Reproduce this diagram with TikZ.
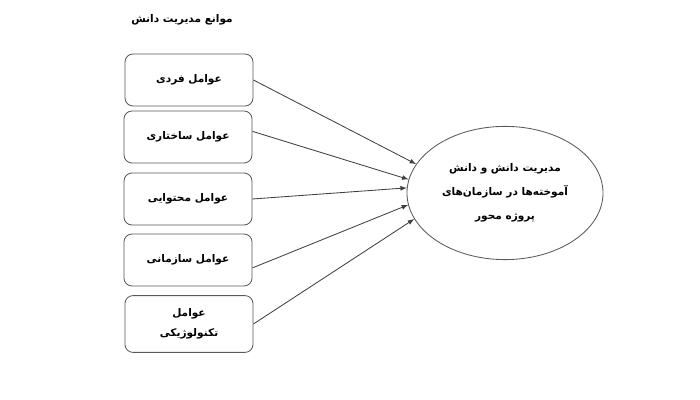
\documentclass[tikz,border=0pt]{standalone}
\usepackage{fontspec}
\newfontfamily\fa[Script=Arabic]{DejaVu Sans}
\TeXXeTstate=1
\usetikzlibrary{shapes.geometric}
\newcommand{\rtl}[1]{\beginR #1\endR}
\tikzstyle{factor}=[rounded corners=2mm,minimum width=3.2cm,minimum height=1.3cm,draw = black!65,line width=0.6pt,align=center,font=\fa\bfseries\fontsize{7.5}{14}\selectfont]
\tikzstyle{goal}=[ellipse,minimum width=4.9cm,minimum height=3.33cm,draw = black!65,line width=0.6pt,align=center,font=\fa\bfseries\fontsize{7.5}{17}\selectfont]

\begin{document}
\begin{tikzpicture}[x=0.025cm,y=-0.025cm,>=latex]
  \useasboundingbox (0, 0) rectangle (700, 400);

  \node [font=\fa\bfseries\fontsize{7.5}{10}\selectfont] at (182, 20) (title) {\rtl{موانع مدیریت دانش}};

  \node [factor] at (189, 80) (f1) {\rtl{عوامل فردی}};
  \node [factor] at (188, 137) (f2) {\rtl{عوامل ساختاری}};
  \node [factor] at (188, 199) (f3) {\rtl{عوامل محتوایی}};
  \node [factor] at (188, 260) (f4) {\rtl{عوامل سازمانی}};
  \node [factor, minimum height=1.42cm] at (189, 324) (f5) {\rtl{عوامل}\\ \rtl{تکنولوژیکی}};

  \node [goal] at (505, 193) (km) {
    \rtl{مدیریت دانش و دانش}\\
    \rtl{آموخته‌ها در سازمان‌های}\\
    \rtl{پروژه محور}
  };

  \draw [->, black!75, line width=0.6pt] (f1.east) -- (km.162);
  \draw [->, black!75, line width=0.6pt] (f2.5) -- (km.172);
  \draw [->, black!75, line width=0.6pt] (f3.east) -- (km.177);
  \draw [->, black!75, line width=0.6pt] (f4.-7) -- (km.187);
  \draw [->, black!75, line width=0.6pt] (f5.east) -- (km.196);
\end{tikzpicture}
\end{document}
